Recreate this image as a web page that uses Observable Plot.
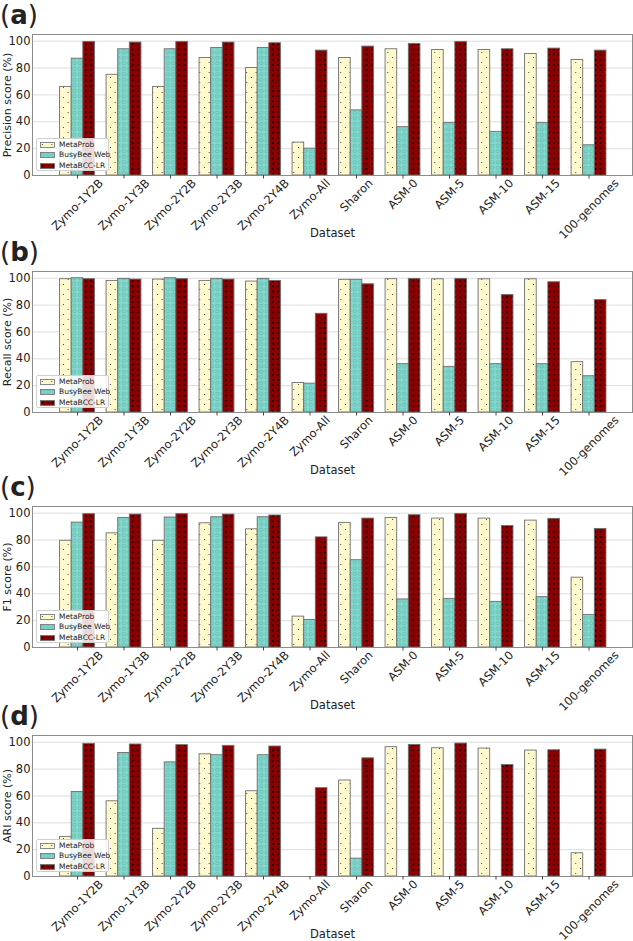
<!DOCTYPE html>
<html>
<head>
<meta charset="utf-8">
<script src="https://cdn.jsdelivr.net/npm/d3@7"></script>
<script src="https://cdn.jsdelivr.net/npm/@observablehq/plot@0.6"></script>
<style>
  body { margin: 0; background: #fff; font-family: "DejaVu Sans", sans-serif; }
  #root { position: relative; width: 633px; height: 941px; overflow: hidden; background: #fff; }
  .panel { position: absolute; left: 0; width: 633px; height: 240px; }
  .panel svg.plot { position: absolute; left: 0; top: 0; }
  .plabel { position: absolute; left: 0; top: 1px; font-size: 26px; line-height: 28px; height: 28px; color: #222; white-space: nowrap; }
  .plabel b { font-weight: bold; }
  .legend { position: absolute; left: 36px; top: 138px; width: 73px; height: 33px;
            background: rgba(255,255,255,0.85); border: 1px solid #cfcfcf; border-radius: 2px;
            font-size: 7.5px; color: #222; box-sizing: border-box; }
  .legend .row { position: absolute; left: 3px; height: 10px; display: flex; align-items: center; white-space: nowrap; }
  .legend .row svg { margin-right: 4px; display: block; flex: none; }
  .legend .row span { white-space: nowrap; line-height: 10px; }
</style>
</head>
<body>
<svg width="0" height="0" style="position:absolute">
  <defs>
    <pattern id="pMP" patternUnits="userSpaceOnUse" width="9.4" height="10">
      <rect width="9.4" height="10" fill="#fffacd"/>
      <circle cx="2.35" cy="2.5" r="0.55" fill="#222"/>
      <circle cx="7.05" cy="7.5" r="0.55" fill="#222"/>
    </pattern>
    <pattern id="pBB" patternUnits="userSpaceOnUse" width="5.5" height="5.5">
      <rect width="5.5" height="5.5" fill="#82d8cd"/>
      <circle cx="2.75" cy="2.75" r="1.7" fill="none" stroke="#56aca1" stroke-width="0.55"/>
    </pattern>
    <pattern id="pMB" patternUnits="userSpaceOnUse" width="5.2" height="5.2">
      <rect width="5.2" height="5.2" fill="#8b0000"/>
      <circle cx="2.6" cy="2.6" r="0.95" fill="#000"/>
    </pattern>
  </defs>
</svg>
<div id="root"></div>
<script>
// ---- data ----
const datasets = ["Zymo-1Y2B", "Zymo-1Y3B", "Zymo-2Y2B", "Zymo-2Y3B", "Zymo-2Y4B", "Zymo-All",
                  "Sharon", "ASM-0", "ASM-5", "ASM-10", "ASM-15", "100-genomes"];
const methods = ["MetaProb", "BusyBee Web", "MetaBCC-LR"];
const yTicks = [0, 20, 40, 60, 80, 100];

const precisionMetaProb = [66, 75, 66, 87.5, 80, 24.5, 87.5, 94, 93.5, 93.5, 90.5, 86];
const precisionBusyBee  = [87, 94, 94, 95, 95, 20, 48.5, 36, 39, 32.5, 39, 22.5];
const precisionMetaBCC  = [99.5, 99, 99.5, 99, 98.5, 93, 96, 98, 99.5, 94, 94.5, 93];

const recallMetaProb = [99.3, 98, 99, 98, 97.5, 22, 98.8, 99.3, 99.2, 99.2, 99.2, 37.5];
const recallBusyBee  = [100, 99.5, 100, 99.5, 99.5, 21.5, 98.8, 36, 34, 36, 36, 27];
const recallMetaBCC  = [99.3, 99, 99.3, 99, 98, 73.5, 95.5, 99.5, 99.5, 87.5, 97, 83.8];

const f1MetaProb = [79.5, 85, 79.5, 92.5, 88, 23, 92.8, 96.5, 96, 96, 94.5, 52];
const f1BusyBee  = [93, 96.5, 96.8, 97, 97, 20.5, 65, 35.8, 36.2, 34, 37.5, 24.3];
const f1MetaBCC  = [99.3, 99, 99.3, 99, 98.3, 82, 96, 98.5, 99.5, 90.5, 95.8, 88.3];

const ariMetaProb = [29.5, 56, 35.5, 91, 63.5, 0, 71.5, 96.3, 95.5, 95.3, 93.8, 17.3];
const ariBusyBee  = [63, 92, 85, 90.3, 90.3, 0, 13.3, 0, 0, 0, 0, 0];
const ariMetaBCC  = [98.8, 98.3, 97.8, 97.3, 96.8, 65.8, 88, 98, 99, 83, 94, 94.5];

const panels = [
  {letter: "a", ylabel: "Precision score (%)", series: [precisionMetaProb, precisionBusyBee, precisionMetaBCC], top: 0},
  {letter: "b", ylabel: "Recall score (%)",    series: [recallMetaProb, recallBusyBee, recallMetaBCC],          top: 237},
  {letter: "c", ylabel: "F1 score (%)",        series: [f1MetaProb, f1BusyBee, f1MetaBCC],                      top: 472},
  {letter: "d", ylabel: "ARI score (%)",       series: [ariMetaProb, ariBusyBee, ariMetaBCC],                   top: 701}
];

// ---- styling ----
const fills = ["url(#pMP)", "url(#pBB)", "url(#pMB)"];
const W = 633, H = 240, MT = 34, MB = 65, ML = 32, MR = 1;
const FONT = "DejaVu Sans";
const FS = 11.5;
const barW = 0.25;
const ctx = document.createElement("canvas").getContext("2d");
ctx.font = `${FS}px "${FONT}"`;

function makePanel(cfg) {
  const idx = datasets.map((d, i) => i);
  const barMarks = cfg.series.map((vals, m) =>
    Plot.rect(vals, {
      x1: (d, i) => i + (m - 1) * barW - barW / 2,
      x2: (d, i) => i + (m - 1) * barW + barW / 2,
      y1: 0,
      y2: d => d,
      fill: fills[m],
      stroke: "#6e6e6e",
      strokeWidth: 0.9
    })
  );
  const tickLabels = datasets.map((name, i) => {
    const L = ctx.measureText(name).width;
    const dy = 1.5 + 0.3536 * (L + 12);
    return Plot.text([name], {
      x: () => i, frameAnchor: "bottom", rotate: -45, textAnchor: "middle", lineAnchor: "middle",
      dy, fontSize: FS, fill: "#222"
    });
  });
  const svg = Plot.plot({
    width: W, height: H, marginTop: MT, marginBottom: MB, marginLeft: ML, marginRight: MR,
    style: {fontFamily: FONT, fontSize: FS + "px", background: "transparent", color: "#222", overflow: "visible"},
    x: {type: "linear", domain: [-0.968, 11.935]},
    y: {domain: [0, 105]},
    marks: [
      Plot.gridY(yTicks, {stroke: "#dcdcdc", strokeOpacity: 1, strokeWidth: 1}),
      ...barMarks,
      Plot.frame({stroke: "#8c8c8c", strokeWidth: 1}),
      Plot.axisY({ticks: yTicks, tickSize: 0, tickPadding: 2, label: null, fontSize: FS}),
      Plot.axisX({ticks: idx, tickSize: 3.5, tickFormat: () => "", label: null, stroke: "#444"}),
      ...tickLabels,
      Plot.text([cfg.ylabel], {frameAnchor: "left", dx: -25.5, rotate: -90, textAnchor: "middle",
                               lineAnchor: "middle", fontSize: 11, fill: "#222"}),
      Plot.text(["Dataset"], {frameAnchor: "bottom", dy: 58, textAnchor: "middle", lineAnchor: "middle",
                              fontSize: FS, fill: "#222"})
    ]
  });
  svg.classList.add("plot");

  const div = document.createElement("div");
  div.className = "panel";
  div.style.top = cfg.top + "px";
  div.appendChild(svg);

  const lab = document.createElement("div");
  lab.className = "plabel";
  lab.innerHTML = `(<b>${cfg.letter}</b>)`;
  div.appendChild(lab);

  const leg = document.createElement("div");
  leg.className = "legend";
  methods.forEach((name, m) => {
    const row = document.createElement("div");
    row.className = "row";
    row.style.top = (1 + m * 10.3) + "px";
    row.innerHTML = `<svg width="15" height="6"><rect x="0.5" y="0.5" width="14" height="5" fill="${fills[m]}" stroke="#6e6e6e" stroke-width="0.8"/></svg><span>${name}</span>`;
    leg.appendChild(row);
  });
  div.appendChild(leg);
  return div;
}

const root = document.getElementById("root");
panels.forEach(p => root.appendChild(makePanel(p)));
</script>
</body>
</html>
